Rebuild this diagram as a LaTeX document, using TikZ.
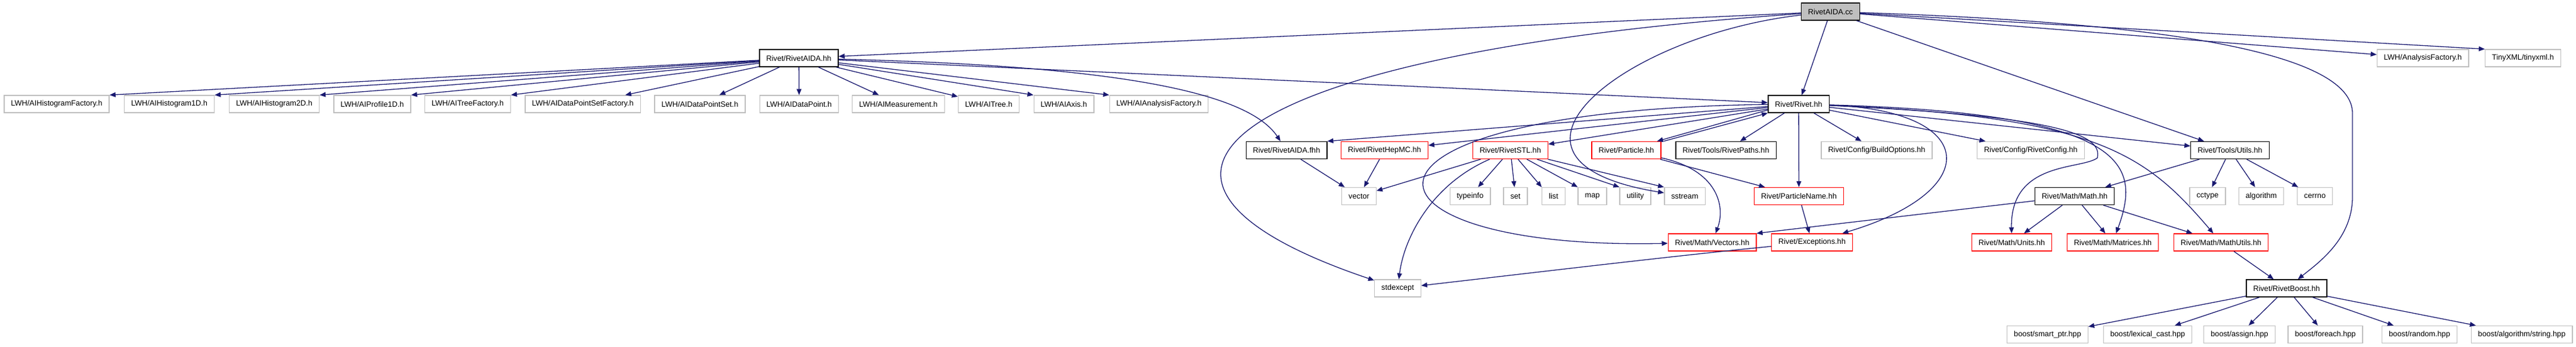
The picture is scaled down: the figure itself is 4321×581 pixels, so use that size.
\documentclass[tikz,border=0pt]{standalone}
\usepackage{fontspec}
\setmainfont{Liberation Sans}
\usetikzlibrary{arrows.meta}
\definecolor{edgeblue}{RGB}{25,25,112}
\definecolor{extgray}{RGB}{191,191,191}
\definecolor{truncred}{RGB}{255,0,0}

\begin{document}
\begin{tikzpicture}[
    x=1pt, y=-1pt,
    docbox/.style={draw=black, fill=white, line width=1.3pt, minimum height=29pt, inner xsep=11.5pt, inner ysep=0pt, font=\fontsize{12.75}{14}\selectfont},
    extbox/.style={docbox, draw=extgray},
    redbox/.style={docbox, draw=truncred},
    arrow/.style={-{Triangle[length=10pt, width=8pt]}, line width=1.3pt, draw=edgeblue}
]

\path[use as bounding box] (0,0) rectangle (4321,581);

% Source file
\node[docbox, fill=extgray] (cc) at (3070.5,19.5) {RivetAIDA.cc};

% Direct includes
\node[docbox] (aida) at (1340,97.5) {Rivet/RivetAIDA.hh};
\node[extbox] (anafac) at (4064,97.5) {LWH/AnalysisFactory.h};
\node[extbox] (tinyxml) at (4232,97.5) {TinyXML/tinyxml.h};

% LWH headers
\node[extbox] (hf) at (95,174.5) {LWH/AIHistogramFactory.h};
\node[extbox] (h1) at (284,174.5) {LWH/AIHistogram1D.h};
\node[extbox] (h2) at (460,174.5) {LWH/AIHistogram2D.h};
\node[extbox] (p1) at (624.5,174.5) {LWH/AIProfile1D.h};
\node[extbox] (tf) at (784.5,174.5) {LWH/AITreeFactory.h};
\node[extbox] (dpsf) at (977.5,174.5) {LWH/AIDataPointSetFactory.h};
\node[extbox] (dps) at (1174,174.5) {LWH/AIDataPointSet.h};
\node[extbox] (dp) at (1340.5,174.5) {LWH/AIDataPoint.h};
\node[extbox] (meas) at (1507,174.5) {LWH/AIMeasurement.h};
\node[extbox] (tree) at (1658.5,174.5) {LWH/AITree.h};
\node[extbox] (axis) at (1784.5,174.5) {LWH/AIAxis.h};
\node[extbox] (anaf) at (1944,174.5) {LWH/AIAnalysisFactory.h};
\node[docbox] (rivet) at (3017,174.5) {Rivet/Rivet.hh};

% Rivet headers
\node[docbox] (fhh) at (2158,252) {Rivet/RivetAIDA.fhh};
\node[redbox] (hepmc) at (2322.5,252) {Rivet/RivetHepMC.hh};
\node[redbox] (stl) at (2533.5,252) {Rivet/RivetSTL.hh};
\node[redbox] (particle) at (2728,252) {Rivet/Particle.hh};
\node[docbox] (paths) at (2895,252) {Rivet/Tools/RivetPaths.hh};
\node[extbox] (buildopt) at (3148,252) {Rivet/Config/BuildOptions.hh};
\node[extbox] (config) at (3406.5,252) {Rivet/Config/RivetConfig.hh};
\node[docbox] (utils) at (3740.5,252) {Rivet/Tools/Utils.hh};

% STL and second level
\node[extbox] (vector) at (2279.5,329) {vector};
\node[extbox] (typeinfo) at (2466,329) {typeinfo};
\node[extbox] (set) at (2542,329) {set};
\node[extbox] (list) at (2606,329) {list};
\node[extbox] (map) at (2671,329) {map};
\node[extbox] (utility) at (2743,329) {utility};
\node[extbox] (sstream) at (2826,329) {sstream};
\node[redbox] (pname) at (3017.5,329) {Rivet/ParticleName.hh};
\node[docbox] (math) at (3480,329) {Rivet/Math/Math.hh};
\node[extbox] (cctype) at (3703,329) {cctype};
\node[extbox] (algorithm) at (3793,329) {algorithm};
\node[extbox] (cerrno) at (3883,329) {cerrno};

% Math headers
\node[redbox] (vectors) at (2872,406.5) {Rivet/Math/Vectors.hh};
\node[redbox] (except) at (3039.5,406.5) {Rivet/Exceptions.hh};
\node[redbox] (units) at (3374.5,406.5) {Rivet/Math/Units.hh};
\node[redbox] (matrices) at (3544,406.5) {Rivet/Math/Matrices.hh};
\node[redbox] (mathutils) at (3725.5,406.5) {Rivet/Math/MathUtils.hh};

% Bottom
\node[extbox] (stdexcept) at (2344.5,483.5) {stdexcept};
\node[docbox] (boost) at (3835.5,483.5) {Rivet/RivetBoost.hh};
\node[extbox] (bsmart) at (3434.5,561) {boost/smart\_ptr.hpp};
\node[extbox] (bcast) at (3602.5,561) {boost/lexical\_cast.hpp};
\node[extbox] (bassign) at (3756.5,561) {boost/assign.hpp};
\node[extbox] (bforeach) at (3900.5,561) {boost/foreach.hpp};
\node[extbox] (brandom) at (4058.5,561) {boost/random.hpp};
\node[extbox] (bstring) at (4230,561) {boost/algorithm/string.hpp};

% Edges from RivetAIDA.cc
\draw[arrow] (cc) -- (aida);
\draw[arrow] (cc) -- (rivet);
\draw[arrow] (cc) -- (utils);
\draw[arrow] (cc) -- (anafac);
\draw[arrow] (cc) -- (tinyxml.north west);
\draw[arrow] (cc) .. controls (2050,90) and (1800,300) .. (stdexcept);
\draw[arrow] (cc) .. controls (2720,60) and (2460,270) .. (sstream);
\draw[arrow] (cc) .. controls (3700,40) and (3946,100) .. (3946,190) -- (3946,330) .. controls (3946,400) and (3890,440) .. (boost);

% Edges from RivetAIDA.hh
\foreach \n in {hf,h1,h2,p1,tf}
    \draw[arrow] (aida) -- (\n.north east);
\foreach \n in {dpsf,dps,dp,meas,tree}
    \draw[arrow] (aida) -- (\n);
\foreach \n in {axis,anaf}
    \draw[arrow] (aida) -- (\n.north west);
\draw[arrow] (aida) .. controls (1850,110) and (2090,150) .. (fhh);
\draw[arrow] (aida) -- (rivet);

% Edges from Rivet.hh
\draw[arrow] (rivet) -- (fhh.north east);
\draw[arrow] (rivet) -- (hepmc);
\draw[arrow] (rivet) -- (stl);
\draw[arrow] ([yshift=-10pt]rivet.west) -- ([xshift=-7pt]particle.north east);
\draw[arrow] ([xshift=4pt]particle.north east) -- (rivet.south west);
\draw[arrow] (rivet) -- (paths);
\draw[arrow] (rivet) -- (pname);
\draw[arrow] (rivet) -- (buildopt);
\draw[arrow] (rivet) -- (config);
\draw[arrow] (rivet) -- (utils);
\draw[arrow] (rivet) .. controls (2200,185) and (2250,420) .. (vectors);
\draw[arrow] (rivet) .. controls (3320,185) and (3330,320) .. (except);
\draw[arrow] (rivet) .. controls (3450,195) and (3528,225) .. (3518,265) .. controls (3490,285) and (3372,270) .. (units);
\draw[arrow] (rivet) .. controls (3580,190) and (3590,280) .. (matrices);
\draw[arrow] (rivet) .. controls (3520,195) and (3600,260) .. (mathutils);

% Second level
\draw[arrow] (fhh) -- (vector);
\draw[arrow] (hepmc) -- (vector);
\draw[arrow] (stl) -- (vector);
\draw[arrow] (stl) -- (typeinfo);
\draw[arrow] (stl) -- (set);
\foreach \n in {list,map,utility,sstream}
    \draw[arrow] (stl) -- (\n.north west);
\draw[arrow] (stl) .. controls (2400,310) and (2355,400) .. (stdexcept);
\draw[arrow] (particle) -- (pname);
\draw[arrow] (particle) .. controls (2880,285) and (2895,345) .. (vectors);
\draw[arrow] (pname) -- (except);
\draw[arrow] (except) .. controls (2800,430) and (2550,460) .. (stdexcept);
\draw[arrow] (utils) -- (math);
\foreach \n in {cctype,algorithm,cerrno}
    \draw[arrow] (utils) -- (\n);
\draw[arrow] (math) -- (vectors.north east);
\foreach \n in {units,matrices,mathutils}
    \draw[arrow] (math) -- (\n);

% Boost
\draw[arrow] (mathutils) -- (boost);
\foreach \n in {bsmart,bcast,bassign,bforeach,brandom,bstring}
    \draw[arrow] (boost) -- (\n);

\end{tikzpicture}
\end{document}
